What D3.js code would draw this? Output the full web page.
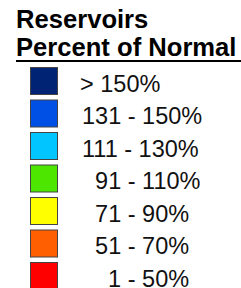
<!DOCTYPE html>
<html><head><meta charset="utf-8">
<script src="https://cdn.jsdelivr.net/npm/d3@7"></script>
<style>html,body{margin:0;padding:0;background:#fff;}</style>
</head><body>
<svg id="c" width="241" height="288"></svg>
<script>
const titleLines = ["Reservoirs", "Percent of Normal"];
const categories = ["> 150%", "131 - 150%", "111 - 130%", "  91 - 110%", "  71 - 90%", "  51 - 70%", "    1 - 50%"];
const colors = ["#002473", "#0050E6", "#00C5FF", "#4CE600", "#FFFF00", "#FF5F00", "#FF0000"];

const svg = d3.select("#c");
const font = "Liberation Sans, Arial, sans-serif";

svg.append("text").attr("x", 16).attr("y", 28)
  .attr("font-family", font).attr("font-weight", "bold").attr("font-size", 25.6)
  .attr("fill", "#000").text(titleLines[0]);
svg.append("text").attr("x", 16).attr("y", 56)
  .attr("font-family", font).attr("font-weight", "bold").attr("font-size", 25.6)
  .attr("fill", "#000").text(titleLines[1]);
svg.append("rect").attr("x", 16).attr("y", 60).attr("width", 225).attr("height", 2).attr("fill", "#000");

const y = d3.scaleBand().domain(d3.range(categories.length)).range([67, 67 + 7 * 32.5]).padding(0);

const rows = svg.selectAll("g.row").data(categories).join("g").attr("class", "row")
  .attr("transform", (d, i) => `translate(0,${y(i)})`);
rows.append("rect").attr("x", 30.5).attr("y", 0.5).attr("width", 27).attr("height", 27)
  .attr("fill", (d, i) => colors[i]).attr("stroke", "#444").attr("stroke-width", 1);
rows.append("text").attr("x", (d, i) => i === 0 ? 80 : 82).attr("y", 24.5)
  .attr("font-family", font).attr("font-size", 23.5).attr("fill", "#111")
  .attr("xml:space", "preserve").style("white-space", "pre").text(d => d);
</script>
</body></html>
